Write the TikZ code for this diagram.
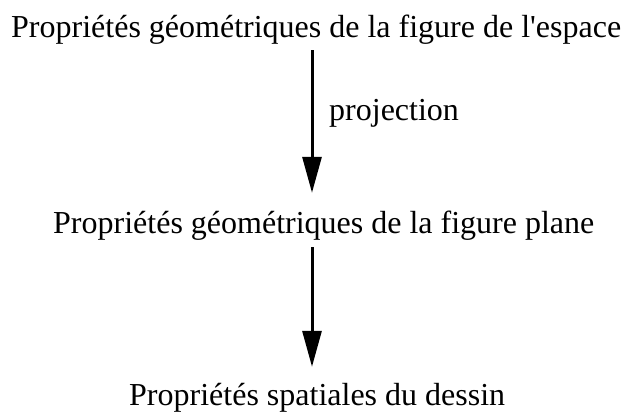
\documentclass[tikz,border=0pt]{standalone}
\usepackage{fontspec}
\setmainfont{Liberation Serif}
\usetikzlibrary{arrows.meta}
\begin{document}
\begin{tikzpicture}[x=1pt,y=1pt,
  txt/.style={inner sep=0pt,anchor=base west,font=\fontsize{32}{38}\selectfont,text height=22pt,text depth=7pt},
  arr/.style={line width=3pt,-{Triangle[length=36pt,width=19pt]}}]
\useasboundingbox (0,0) rectangle (625,-413);
\coordinate (ax) at (312,0);
\node[txt] (t1) at (11,-37) {Propriétés géométriques de la figure de l\textquotesingle espace};
\node[txt] (t2) at (53,-233) {Propriétés géométriques de la figure plane};
\node[txt] (t3) at (129,-405) {Propriétés spatiales du dessin};
\node[txt] (lab) at (329,-120) {projection};
\draw[arr,shorten <=6pt,shorten >=18pt] (t1.south -| ax) -- (t2.north -| ax);
\draw[arr,shorten <=7pt,shorten >=16pt] (t2.south -| ax) -- (t3.north -| ax);
\end{tikzpicture}
\end{document}
